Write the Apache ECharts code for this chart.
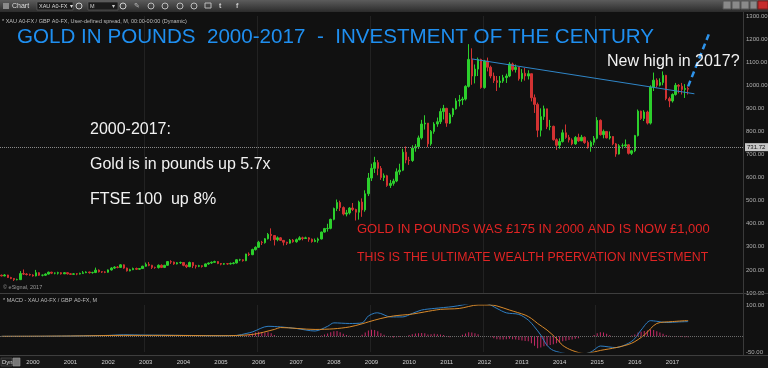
<!DOCTYPE html>
<html><head><meta charset="utf-8">
<script src="https://cdn.jsdelivr.net/npm/echarts@6/dist/echarts.min.js"></script>
<style>html,body{margin:0;padding:0;background:#111;}#c{width:768px;height:368px;}</style>
</head><body><div id="c"></div>
<script>
// ---- categories (monthly, Mar 1999 .. Nov 2018; data ends Jun 2017) ----
const START_YEAR = 1999, START_MONTH = 3, MONTH_COUNT = 237;
const categories = [];
for (let i = 0; i < MONTH_COUNT; i++) {
  const m = START_MONTH - 1 + i;
  categories.push((START_YEAR + Math.floor(m / 12)) + '-' + String(m % 12 + 1).padStart(2, '0'));
}
const gridYears = ['2003', '2006', '2009', '2012', '2015'];
const yearLabelRange = ['2000', '2017'];

// ---- monthly candles (GBP per oz). open of first month, then closes/highs/lows ----
const firstOpen = 177;
const closes = [
  174,178,167,163,158,158,184,182,180,178,
  174,188,177,177,182,190,186,186,188,183,188,183,
  181,183,182,185,188,191,188,189,199,192,191,190,
  200,208,212,211,222,208,196,201,206,203,206,216,
  224,220,211,210,220,211,220,236,234,226,231,232,
  220,214,232,218,216,218,215,226,230,233,236,228,
  225,227,226,228,230,244,244,240,269,266,288,298,
  320,318,335,354,349,331,339,328,320,316,329,322,
  331,339,336,339,333,323,328,334,364,379,380,419,
  466,492,470,442,447,468,462,450,494,460,530,598,
  640,665,640,600,608,566,575,585,625,632,710,676,
  674,728,734,772,832,836,746,800,832,842,886,900,
  836,872,898,932,936,940,995,1112,1040,1070,1112,990,
  1105,1078,1040,1020,1012,1018,1033,1040,1092,1068,1078,1028,
  1052,1040,1050,946,917,805,864,898,820,822,764,740,
  756,794,774,763,746,774,759,775,752,734,753,770,
  848,786,800,772,778,746,702,738,738,742,705,716,
  782,888,856,884,836,992,1022,1000,1012,1043,942,932,
  960,1000,996,982,986,983
];
const highs = [
  180,182,179,170,164,162,195,202,186,184,
  181,200,190,180,185,193,192,189,192,190,191,190,
  186,186,186,188,195,194,192,192,210,202,194,194,
  202,212,216,216,225,224,210,205,210,210,208,218,
  232,234,222,214,224,224,222,238,242,236,234,236,
  234,224,236,234,222,222,220,228,232,237,240,238,
  230,230,230,232,234,246,248,246,270,276,292,302,
  326,326,338,360,380,350,345,342,328,322,334,334,
  336,346,344,344,342,336,336,340,366,382,400,422,
  470,505,500,475,460,472,490,465,500,510,545,620,
  660,690,676,650,618,612,590,595,640,660,725,735,
  690,740,745,782,850,870,836,806,840,860,900,915,
  902,880,902,944,958,950,1000,1178,1160,1090,1120,1115,
  1110,1120,1085,1055,1040,1040,1045,1050,1100,1098,1090,1080,
  1070,1075,1065,1050,960,925,900,912,898,850,825,770,
  770,808,830,785,770,780,790,785,778,760,760,780,
  862,852,808,800,800,780,750,745,748,765,745,720,
  785,895,890,892,890,1000,1055,1030,1030,1060,1045,950,
  965,1010,1005,1010,1005,995
];
const lows = [
  172,172,165,160,152,155,156,178,176,175,
  171,172,174,172,174,180,182,181,180,180,182,180,
  178,179,177,180,183,186,184,184,186,189,187,186,
  188,197,204,207,209,205,193,194,199,200,200,204,
  214,216,204,205,206,208,208,218,226,222,224,226,
  216,208,212,208,206,212,210,212,222,226,230,225,
  220,222,222,223,224,228,238,236,238,260,264,284,
  296,308,314,332,326,306,324,326,306,308,314,318,
  318,328,328,334,322,318,320,318,332,362,366,376,
  415,455,455,436,432,440,455,414,418,430,452,520,
  585,620,610,590,585,560,555,565,580,612,628,662,
  655,668,712,724,765,808,732,738,790,820,832,852,
  820,832,862,894,908,915,934,990,1002,1008,1040,985,
  985,1060,1030,1010,975,990,1010,1010,1035,1060,1055,1020,
  1015,1020,1025,930,880,775,778,850,810,805,760,720,
  725,752,768,752,740,742,755,758,746,725,712,740,
  765,782,770,770,765,740,690,700,725,730,700,698,
  710,778,850,845,830,830,975,990,995,1000,935,905,
  925,955,965,960,945,960
];
const supportLevel = 731.72;
const lastPriceTag = 983.11;
const trendLine = [['2011-09', 1114], ['2017-08', 963]];
const projection = [['2017-06', 995], ['2018-01', 1235]];

// ---- MACD panel ----
const macdLine = [
  ['1999-03',0],['2000-01',0],['2001-01',1],['2002-01',3],['2002-06',5],['2003-01',4],['2004-01',3],
  ['2005-01',2],['2005-06',3],['2005-09',9],['2005-11',14],['2006-04',32],['2006-08',30],['2007-01',25],
  ['2007-07',17],['2007-11',32],['2008-01',43],['2008-06',41],['2008-10',43],['2008-12',65],['2009-02',74],
  ['2009-03',75],['2009-07',62],['2009-11',62],['2010-02',73],['2010-05',84],['2010-09',89],['2011-03',95],
  ['2011-06',100],['2011-10',107],['2012-02',104],['2012-05',89],['2012-08',75],['2012-12',70],['2013-03',52],
  ['2013-05',30],['2013-07',4],['2013-09',-29],['2013-11',-45],['2014-03',-55],['2014-07',-60],['2014-11',-50],
  ['2014-12',-43],['2015-02',-31],['2015-07',-36],['2015-11',-22],['2016-01',-7],['2016-03',20],['2016-06',50],
  ['2016-08',48],['2016-11',44],['2017-03',46],['2017-06',47]
];
const signalLine = [
  ['1999-03',0],['2001-01',1],['2002-06',3],['2003-06',3],['2005-01',2],['2005-11',6],['2006-06',22],
  ['2006-08',28],['2007-07',22],['2008-01',24],['2008-06',30],['2008-10',40],['2008-12',46],['2009-04',57],
  ['2009-08',65],['2010-02',71],['2010-06',78],['2010-11',86],['2011-05',89],['2011-11',100],['2012-03',100],
  ['2012-05',97],['2012-09',84],['2013-02',68],['2013-04',57],['2013-06',41],['2013-09',20],['2013-12',-7],
  ['2014-02',-29],['2014-05',-45],['2014-09',-55],['2014-12',-50],['2015-02',-45],['2015-07',-36],
  ['2015-12',-22],['2016-04',4],['2016-08',41],['2017-01',47],['2017-06',50.41]
];
const histogram = [
  ['2005-09',4],['2005-10',6],['2005-11',9],['2005-12',12],['2006-01',15],['2006-02',14],['2006-03',12],['2006-04',13],['2006-05',10],['2006-06',4],
  ['2007-09',3],['2007-10',6],['2007-11',9],['2007-12',13],['2008-01',16],['2008-02',17],['2008-03',13],['2008-04',8],['2008-05',4],['2008-06',2],
  ['2008-10',5],['2008-11',12],['2008-12',19],['2009-01',21],['2009-02',20],['2009-03',16],['2009-04',10],['2009-05',5],
  ['2009-07',-3],['2009-08',-4],['2009-09',-3],['2009-10',-2],
  ['2010-01',4],['2010-02',7],['2010-03',9],['2010-04',10],['2010-05',11],['2010-06',10],['2010-07',6],['2010-08',7],['2010-09',8],['2010-10',7],['2010-11',6],['2010-12',4],
  ['2011-01',-2],['2011-02',-3],
  ['2011-06',5],['2011-07',9],['2011-08',13],['2011-09',12],['2011-10',10],['2011-11',7],
  ['2012-03',-3],['2012-04',-6],['2012-05',-9],['2012-06',-10],['2012-07',-10],['2012-08',-9],['2012-09',-8],['2012-10',-9],['2012-11',-10],['2012-12',-12],
  ['2013-01',-13],['2013-02',-15],['2013-03',-16],['2013-04',-22],['2013-05',-30],['2013-06',-38],['2013-07',-36],['2013-08',-32],['2013-09',-30],['2013-10',-28],['2013-11',-25],['2013-12',-22],
  ['2014-01',-20],['2014-02',-16],['2014-03',-14],['2014-04',-12],['2014-05',-10],['2014-06',-8],['2014-07',-6],
  ['2014-12',4],['2015-01',10],['2015-02',13],['2015-03',12],['2015-04',8],['2015-05',4],
  ['2015-12',3],['2016-01',6],['2016-02',12],['2016-03',15],['2016-04',17],['2016-05',19],['2016-06',22],['2016-07',20],['2016-08',16],['2016-09',12],['2016-10',8],['2016-11',4],['2016-12',2],
  ['2017-01',1],['2017-02',1],['2017-03',-1],['2017-04',-2],['2017-05',-3],['2017-06',-3.21]
];
const signalTag = 50.41, histTag = -3.21;

// ---- texts ----
const titleText = 'GOLD IN POUNDS  2000-2017  -  INVESTMENT OF THE CENTURY';
const noteTexts = ['2000-2017:', 'Gold is in pounds up 5.7x', 'FTSE 100  up 8%'];
const redTexts = ['GOLD IN POUNDS WAS £175 IN 2000 AND IS NOW £1,000', 'THIS IS THE ULTIMATE WEALTH PRERVATION INVESTMENT'];

const candles = closes.map((c, i) => [i ? closes[i - 1] : firstOpen, c, lows[i], highs[i]]);
const FONT = 'Liberation Sans, Arial, sans-serif';
const chart = echarts.init(document.getElementById('c'), null, {renderer: 'canvas'});

function tagLabel(text, bg, fg) {
  return {show: true, position: 'end', distance: 2, formatter: text, backgroundColor: bg, color: fg,
    fontSize: 6, fontFamily: FONT, padding: [1, 3, 1, 2]};
}
const isGridYear = (idx, val) => gridYears.some(y => val === y + '-01');

const G = echarts.graphic;
const graphics = [
  {type: 'rect', z: 100, shape: {x: 0, y: 0, width: 768, height: 12},
    style: {fill: new G.LinearGradient(0, 0, 0, 1, [{offset: 0, color: '#5c5c5c'}, {offset: 1, color: '#2b2b2b'}])}},
  {type: 'rect', z: 101, shape: {x: 3, y: 3, width: 6, height: 6}, style: {fill: '#8a8a8a'}},
  {type: 'text', z: 101, style: {x: 12, y: 6, text: 'Chart', fill: '#ddd', fontSize: 7, fontFamily: FONT, verticalAlign: 'middle'}},
  {type: 'rect', z: 101, shape: {x: 37, y: 2, width: 36, height: 8}, style: {fill: '#1b1b1b', stroke: '#666', lineWidth: 0.6}},
  {type: 'text', z: 102, style: {x: 39, y: 6, text: 'XAU A0-FX  ▾', fill: '#ddd', fontSize: 5.5, fontFamily: FONT, verticalAlign: 'middle'}},
  {type: 'circle', z: 101, shape: {cx: 79, cy: 6, r: 3}, style: {fill: 'none', stroke: '#ccc', lineWidth: 1}},
  {type: 'rect', z: 101, shape: {x: 88, y: 2, width: 30, height: 8}, style: {fill: '#1b1b1b', stroke: '#666', lineWidth: 0.6}},
  {type: 'text', z: 102, style: {x: 90, y: 6, text: 'M', fill: '#ccc', fontSize: 5.5, fontFamily: FONT, verticalAlign: 'middle'}},
  {type: 'text', z: 102, style: {x: 112, y: 6, text: '▾', fill: '#ccc', fontSize: 5.5, fontFamily: FONT, verticalAlign: 'middle'}},
  {type: 'circle', z: 101, shape: {cx: 123, cy: 6, r: 3}, style: {fill: 'none', stroke: '#ccc', lineWidth: 1}},
  {type: 'text', z: 101, style: {x: 134, y: 6, text: '✎', fill: '#bbb', fontSize: 7, verticalAlign: 'middle'}},
  {type: 'circle', z: 101, shape: {cx: 151, cy: 6, r: 3}, style: {fill: 'none', stroke: '#bbb', lineWidth: 1}},
  {type: 'circle', z: 101, shape: {cx: 165, cy: 6, r: 3}, style: {fill: 'none', stroke: '#bbb', lineWidth: 1}},
  {type: 'circle', z: 101, shape: {cx: 180, cy: 6, r: 3}, style: {fill: 'none', stroke: '#bbb', lineWidth: 1}},
  {type: 'circle', z: 101, shape: {cx: 194, cy: 6, r: 3}, style: {fill: 'none', stroke: '#bbb', lineWidth: 1}},
  {type: 'rect', z: 101, shape: {x: 205, y: 3, width: 6, height: 5}, style: {fill: 'none', stroke: '#bbb', lineWidth: 1}},
  {type: 'text', z: 101, style: {x: 219, y: 6, text: 't', fill: '#ccc', fontSize: 7, fontFamily: FONT, fontWeight: 'bold', verticalAlign: 'middle'}},
  {type: 'text', z: 101, style: {x: 236, y: 6, text: 'f', fill: '#ccc', fontSize: 7, fontFamily: FONT, fontWeight: 'bold', verticalAlign: 'middle'}},
  {type: 'rect', z: 101, shape: {x: 723, y: 1, width: 8, height: 8}, style: {fill: '#8a8a8a', stroke: '#555'}},
  {type: 'rect', z: 101, shape: {x: 732, y: 1, width: 8, height: 8}, style: {fill: '#8a8a8a', stroke: '#555'}},
  {type: 'rect', z: 101, shape: {x: 741, y: 1, width: 8, height: 8}, style: {fill: '#8a8a8a', stroke: '#555'}},
  {type: 'rect', z: 101, shape: {x: 750, y: 1, width: 7, height: 8}, style: {fill: '#8a8a8a', stroke: '#555'}},
  {type: 'rect', z: 101, shape: {x: 758, y: 1, width: 10, height: 8}, style: {fill: '#c62a2a', stroke: '#7a1a1a'}},
  {type: 'text', z: 101, style: {x: 2, y: 21, text: '* XAU A0-FX / GBP A0-FX, User-defined spread, M, 00:00-00:00 (Dynamic)', fill: '#bdbdbd', fontSize: 5.5, fontFamily: FONT, verticalAlign: 'middle'}},
  // separators
  {type: 'line', z: 50, shape: {x1: 0, y1: 293.5, x2: 768, y2: 293.5}, style: {stroke: '#3e3e3e', lineWidth: 1}},
  {type: 'line', z: 50, shape: {x1: 743.5, y1: 12, x2: 743.5, y2: 356}, style: {stroke: '#3a3a3a', lineWidth: 1}},
  {type: 'rect', z: -5, shape: {x: 0, y: 356, width: 768, height: 12}, style: {fill: '#161616'}},
  {type: 'line', z: 50, shape: {x1: 0, y1: 355.5, x2: 768, y2: 355.5}, style: {stroke: '#3e3e3e', lineWidth: 1}},
  {type: 'rect', z: 51, shape: {x: 1, y: 358, width: 11, height: 8}, style: {fill: '#222', stroke: '#555', lineWidth: 0.6}},
  {type: 'text', z: 52, style: {x: 2, y: 362, text: 'Dyn', fill: '#ddd', fontSize: 6, fontFamily: FONT, verticalAlign: 'middle'}},
  {type: 'rect', z: 51, shape: {x: 13, y: 358, width: 7, height: 8}, style: {fill: '#777', stroke: '#999', lineWidth: 0.6}},
  {type: 'text', z: 52, style: {x: 3, y: 287, text: '© eSignal, 2017', fill: '#999', fontSize: 5.5, fontFamily: FONT, verticalAlign: 'middle'}},
  {type: 'text', z: 52, style: {x: 3, y: 300, text: '* MACD - XAU A0-FX / GBP A0-FX, M', fill: '#bbb', fontSize: 5.5, fontFamily: FONT, verticalAlign: 'middle'}},
  // annotations
  {type: 'text', z: 60, style: {x: 17, y: 37, text: titleText, fill: '#1f8ff0', fontSize: 20.6, fontFamily: FONT, verticalAlign: 'middle'}},
  {type: 'text', z: 60, style: {x: 607, y: 62, text: 'New high in 2017?', fill: '#f2f2f2', fontSize: 16, fontFamily: FONT, verticalAlign: 'middle'}},
  {type: 'text', z: 60, style: {x: 90, y: 130, text: noteTexts[0], fill: '#f2f2f2', fontSize: 16, fontFamily: FONT, verticalAlign: 'middle'}},
  {type: 'text', z: 60, style: {x: 90, y: 165, text: noteTexts[1], fill: '#f2f2f2', fontSize: 16, fontFamily: FONT, verticalAlign: 'middle'}},
  {type: 'text', z: 60, style: {x: 90, y: 200, text: noteTexts[2], fill: '#f2f2f2', fontSize: 16, fontFamily: FONT, verticalAlign: 'middle'}},
  {type: 'text', z: 60, style: {x: 357, y: 229, text: redTexts[0], fill: '#e02424', fontSize: 13, fontFamily: FONT, verticalAlign: 'middle'}},
  {type: 'text', z: 60, style: {x: 357, y: 258, text: redTexts[1], fill: '#e02424', fontSize: 12.3, fontFamily: FONT, verticalAlign: 'middle'}}
];

const option = {
  animation: false,
  backgroundColor: '#111111',
  grid: [
    {left: 0, right: 25, top: 16, height: 277, outerBoundsMode: 'none', containLabel: false},
    {left: 0, right: 25, top: 305, height: 47, outerBoundsMode: 'none', containLabel: false}
  ],
  xAxis: [
    {type: 'category', gridIndex: 0, data: categories, boundaryGap: true,
      axisLine: {show: false}, axisTick: {show: false}, axisLabel: {show: false},
      splitLine: {show: true, interval: isGridYear, lineStyle: {color: '#222', width: 1}}},
    {type: 'category', gridIndex: 1, data: categories, boundaryGap: true,
      axisLine: {show: false}, axisTick: {show: false},
      axisLabel: {show: true,
        interval: (idx, val) => val.endsWith('-01') && val.slice(0, 4) >= yearLabelRange[0] && val.slice(0, 4) <= yearLabelRange[1],
        formatter: v => v.slice(0, 4), color: '#d0d0d0', fontSize: 6, fontFamily: FONT, margin: 7},
      splitLine: {show: true, interval: isGridYear, lineStyle: {color: '#222', width: 1}}}
  ],
  yAxis: [
    {type: 'value', gridIndex: 0, position: 'right', min: 100, max: 1300, interval: 100,
      axisLine: {show: false}, axisTick: {show: false}, splitLine: {show: false},
      axisLabel: {show: true, formatter: v => v.toFixed(2), color: '#b0b0b0', fontSize: 6, fontFamily: FONT, margin: 3}},
    {type: 'value', gridIndex: 1, position: 'right', min: -50, max: 100, interval: 50,
      axisLine: {show: false}, axisTick: {show: false}, splitLine: {show: false},
      axisLabel: {show: true, formatter: v => (v === 100 || v === -50) ? v.toFixed(2) : '', color: '#b0b0b0', fontSize: 6, fontFamily: FONT, margin: 3}}
  ],
  series: [
    {type: 'candlestick', xAxisIndex: 0, yAxisIndex: 0, data: candles, barWidth: 2,
      itemStyle: {color: '#2ccf2c', color0: '#d23232', borderColor: '#2ccf2c', borderColor0: '#d23232', borderWidth: 1},
      markLine: {silent: true, symbol: ['none', 'none'], animation: false,
        data: [
          {yAxis: supportLevel, lineStyle: {type: 'dotted', color: '#8a8a8a', width: 1}, label: tagLabel(supportLevel.toFixed(2), '#c8c8c8', '#111')},
          {yAxis: lastPriceTag, lineStyle: {opacity: 0}, label: tagLabel(lastPriceTag.toFixed(2), '#22e022', '#0a3a0a')},
          [{coord: trendLine[0], lineStyle: {type: 'solid', color: '#2f86c8', width: 1}, label: {show: false}}, {coord: trendLine[1]}],
          [{coord: projection[0], lineStyle: {type: [6, 4], color: '#2e93ea', width: 2.5}, label: {show: false}}, {coord: projection[1]}]
        ]}},
    {type: 'bar', xAxisIndex: 1, yAxisIndex: 1, data: histogram, barWidth: 1, itemStyle: {color: '#c42a66'},
      markLine: {silent: true, symbol: ['none', 'none'],
        data: [
          {yAxis: 0, lineStyle: {type: 'dotted', color: '#6a6a6a', width: 1}, label: {show: false}},
          {yAxis: histTag, lineStyle: {opacity: 0}, label: tagLabel(histTag.toFixed(2), '#e8307c', '#fff')}
        ]}},
    {type: 'line', xAxisIndex: 1, yAxisIndex: 1, data: macdLine, showSymbol: false, smooth: 0.3,
      lineStyle: {color: '#2f7fc4', width: 1}},
    {type: 'line', xAxisIndex: 1, yAxisIndex: 1, data: signalLine, showSymbol: false, smooth: 0.3,
      lineStyle: {color: '#d98a2b', width: 1},
      markLine: {silent: true, symbol: ['none', 'none'],
        data: [{yAxis: signalTag, lineStyle: {opacity: 0}, label: tagLabel(signalTag.toFixed(2), '#e8891e', '#3a1a00')}]}}
  ],
  graphic: graphics
};
chart.setOption(option);
</script>
</body></html>
